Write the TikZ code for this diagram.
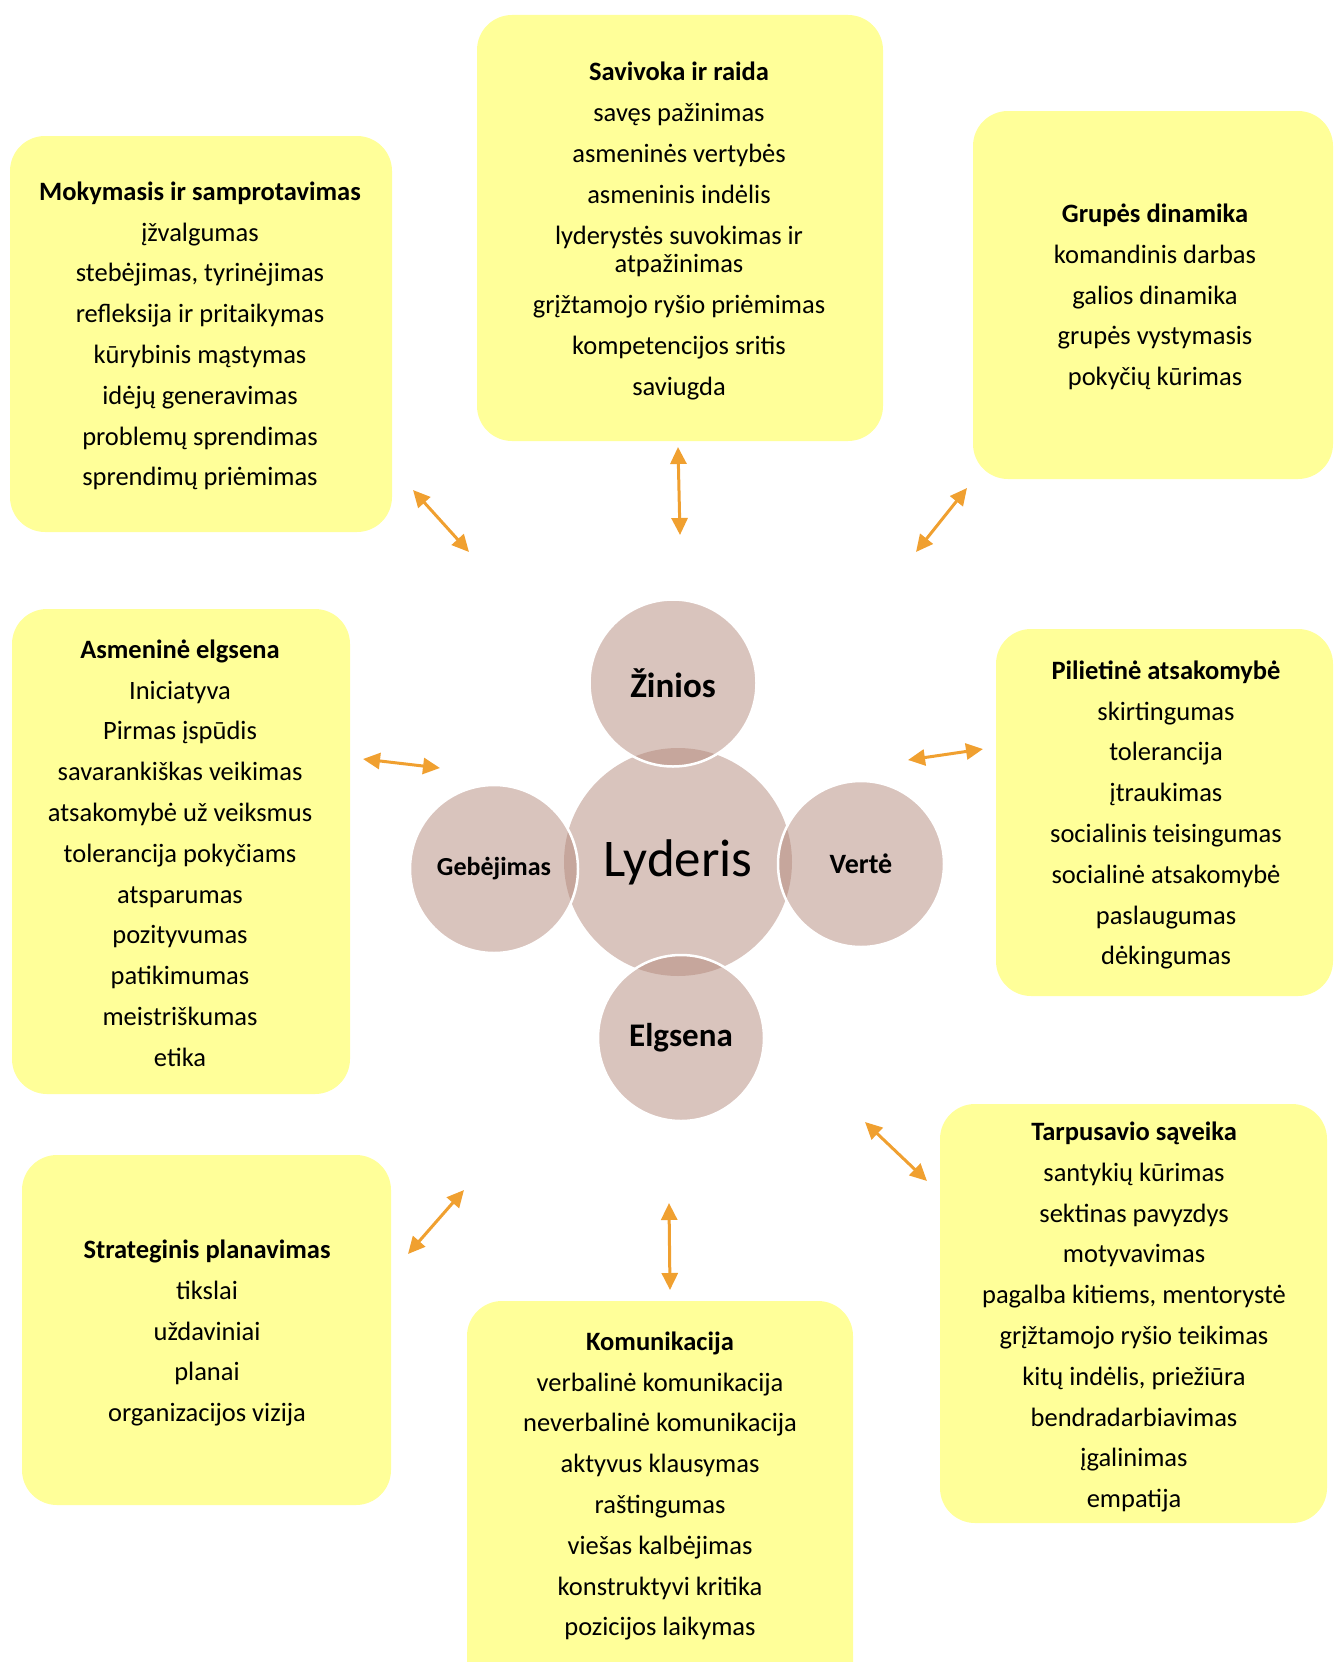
\documentclass[tikz,border=0pt]{standalone}
\usepackage{fontspec}
\setmainfont{Carlito}
\usetikzlibrary{arrows.meta}
\definecolor{boxyellow}{HTML}{FFFF99}
\definecolor{circfill}{HTML}{B3897B}
\definecolor{arroworange}{HTML}{F0A030}
\begin{document}
\begin{tikzpicture}[x=1pt,y=-1pt,
  infobox/.style={fill=boxyellow, rounded corners=35pt},
  boxtext/.style={align=center, font=\fontsize{26.5}{40.8}\selectfont, text=black, inner sep=0pt},
  bubble/.style={circle, fill=circfill, fill opacity=0.5, text opacity=1, draw=white, line width=2.5pt, inner sep=0pt},
  biarrow/.style={draw=arroworange, line width=3pt, {Triangle[length=17pt,width=16pt,fill=arroworange]}-{Triangle[length=17pt,width=16pt,fill=arroworange]}}]
\useasboundingbox (0,0) rectangle (1333,1662);

% boxes
\path[infobox] (477,15) rectangle (883,441);
\path[infobox] (10,136) rectangle (392,532);
\path[infobox] (973,111) rectangle (1333,479);
\path[infobox] (12,609) rectangle (350,1094);
\path[infobox] (996,629) rectangle (1333,996);
\path[infobox] (22,1155) rectangle (391,1505);
\path[infobox] (467,1301) rectangle (853,1720);
\path[infobox] (940,1104) rectangle (1327,1523);

% box texts
\node[boxtext] (t1) at (679,231) {\textbf{Savivoka ir raida}\\ savęs pažinimas\\ asmeninės vertybės\\ asmeninis indėlis\\ lyderystės suvokimas ir\\[-12.2pt] atpažinimas\\ grįžtamojo ryšio priėmimas\\ kompetencijos sritis\\ saviugda};
\node[boxtext] (t2) at (200,336) {\textbf{Mokymasis ir samprotavimas}\\ įžvalgumas\\ stebėjimas, tyrinėjimas\\ refleksija ir pritaikymas\\ kūrybinis mąstymas\\ idėjų generavimas\\ problemų sprendimas\\ sprendimų priėmimas};
\node[boxtext] (t3) at (1155,297) {\textbf{Grupės dinamika}\\ komandinis darbas\\ galios dinamika\\ grupės vystymasis\\ pokyčių kūrimas};
\node[boxtext] (t4) at (180,853) {\textbf{Asmeninė elgsena}\\ Iniciatyva\\ Pirmas įspūdis\\ savarankiškas veikimas\\ atsakomybė už veiksmus\\ tolerancija pokyčiams\\ atsparumas\\ pozityvumas\\ patikimumas\\ meistriškumas\\ etika};
\node[boxtext] (t5) at (1166,815) {\textbf{Pilietinė atsakomybė}\\ skirtingumas\\ tolerancija\\ įtraukimas\\ socialinis teisingumas\\ socialinė atsakomybė\\ paslaugumas\\ dėkingumas};
\node[boxtext] (t6) at (207,1333) {\textbf{Strateginis planavimas}\\ tikslai\\ uždaviniai\\ planai\\ organizacijos vizija};
\node[boxtext] (t7) at (660,1486) {\textbf{Komunikacija}\\ verbalinė komunikacija\\ neverbalinė komunikacija\\ aktyvus klausymas\\ raštingumas\\ viešas kalbėjimas\\ konstruktyvi kritika\\ pozicijos laikymas};
\node[boxtext] (t8) at (1134,1317) {\textbf{Tarpusavio sąveika}\\ santykių kūrimas\\ sektinas pavyzdys\\ motyvavimas\\ pagalba kitiems, mentorystė\\ grįžtamojo ryšio teikimas\\ kitų indėlis, priežiūra\\ bendradarbiavimas\\ įgalinimas\\ empatija};

% circles
\node[bubble, minimum size=228pt, draw=none, font=\fontsize{53}{60}\selectfont] (lyd) at (678,862) {Lyderis};
\node[bubble, minimum size=167pt, font=\bfseries\fontsize{35}{40}\selectfont] (zin) at (673,683) {Žinios};
\node[bubble, minimum size=168pt, font=\bfseries\fontsize{26}{30}\selectfont] (geb) at (494,869) {Gebėjimas};
\node[bubble, minimum size=166pt, font=\bfseries\fontsize{28}{32}\selectfont] (ver) at (861,864) {Vertė};
\node[bubble, minimum size=166pt, font=\bfseries\fontsize{33}{38}\selectfont] (elg) at (681,1038) {Elgsena};

% arrows
\coordinate (a1s) at (413,490); \coordinate (a1e) at (469,552);
\coordinate (a2s) at (678,447); \coordinate (a2e) at (680,535);
\coordinate (a3s) at (967,488); \coordinate (a3e) at (916,552);
\coordinate (a4s) at (363,759); \coordinate (a4e) at (440,768);
\coordinate (a5s) at (983,749); \coordinate (a5e) at (908,760);
\coordinate (a6s) at (464,1190); \coordinate (a6e) at (408,1254);
\coordinate (a7s) at (669,1203); \coordinate (a7e) at (670,1290);
\coordinate (a8s) at (865,1122); \coordinate (a8e) at (927,1181);
\draw[biarrow] (a1s) -- (a1e);
\draw[biarrow] (a2s) -- (a2e);
\draw[biarrow] (a3s) -- (a3e);
\draw[biarrow] (a4s) -- (a4e);
\draw[biarrow] (a5s) -- (a5e);
\draw[biarrow] (a6s) -- (a6e);
\draw[biarrow] (a7s) -- (a7e);
\draw[biarrow] (a8s) -- (a8e);
\end{tikzpicture}
\end{document}
